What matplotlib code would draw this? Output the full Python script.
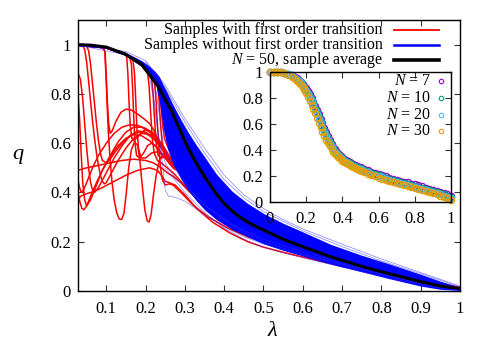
import matplotlib
matplotlib.use('Agg')
import matplotlib.pyplot as plt

plt.rcParams['font.family'] = ['Liberation Serif', 'DejaVu Serif']
plt.rcParams['mathtext.fontset'] = 'custom'
plt.rcParams['mathtext.rm'] = 'Liberation Serif'
plt.rcParams['mathtext.it'] = 'Liberation Serif:italic'

# ---------------- main panel data ----------------
# N = 50 sample average
avg_lam = [0.028, 0.06, 0.10, 0.148, 0.19, 0.232, 0.249, 0.265, 0.28, 0.29, 0.30, 0.32, 0.334,
           0.36, 0.38, 0.40, 0.42, 0.44, 0.47, 0.50, 0.55, 0.60, 0.669, 0.75, 0.82, 0.90, 0.95, 1.0]
avg_q = [1.0, 0.998, 0.99, 0.962, 0.92, 0.83, 0.78, 0.735, 0.68, 0.645, 0.607, 0.545, 0.505,
         0.44, 0.395, 0.355, 0.325, 0.30, 0.27, 0.248, 0.21, 0.18, 0.14, 0.1, 0.07, 0.038, 0.02, 0.01]

# dense core of the samples without first order transition
blue_lam = [0.028, 0.1, 0.15, 0.19, 0.21, 0.225, 0.235, 0.245, 0.255, 0.27, 0.29, 0.31, 0.33,
            0.35, 0.38, 0.42, 0.46, 0.5, 0.55, 0.6, 0.67, 0.75, 0.82, 0.9, 0.95, 1.0]
blue_upper = [1.0, 0.993, 0.968, 0.935, 0.912, 0.89, 0.87, 0.835, 0.805, 0.755, 0.695, 0.64, 0.59,
              0.545, 0.475, 0.405, 0.355, 0.315, 0.275, 0.24, 0.19, 0.145, 0.11, 0.068, 0.04, 0.015]
blue_lower = [0.995, 0.985, 0.955, 0.912, 0.88, 0.845, 0.77, 0.66, 0.58, 0.515, 0.455, 0.405, 0.365,
              0.33, 0.29, 0.25, 0.22, 0.192, 0.165, 0.142, 0.11, 0.078, 0.05, 0.02, 0.007, 0.002]

# individual samples at the edges of the bundle
blue_f1 = [(0.028, 0.998), (0.15, 0.958), (0.2, 0.9), (0.21, 0.87), (0.22, 0.78), (0.23, 0.66), (0.24, 0.57),
           (0.25, 0.52), (0.27, 0.47), (0.3, 0.42), (0.35, 0.35), (0.4, 0.29), (0.45, 0.24), (0.5, 0.2),
           (0.6, 0.15), (0.7, 0.11), (0.8, 0.07), (0.9, 0.03), (1.0, 0.005)]
blue_f2 = [(0.2, 0.9), (0.22, 0.86), (0.228, 0.8), (0.236, 0.7), (0.245, 0.6), (0.255, 0.55), (0.27, 0.51),
           (0.29, 0.46), (0.32, 0.4), (0.36, 0.335), (0.42, 0.27), (0.5, 0.21), (0.6, 0.16), (0.7, 0.115),
           (0.8, 0.075), (0.9, 0.035), (1.0, 0.006)]
blue_f3 = [(0.2, 0.9), (0.215, 0.86), (0.225, 0.74), (0.235, 0.6), (0.243, 0.52), (0.247, 0.45), (0.25, 0.41),
           (0.258, 0.385), (0.275, 0.38), (0.3, 0.365), (0.35, 0.31), (0.4, 0.26), (0.45, 0.22), (0.5, 0.19),
           (0.6, 0.145), (0.7, 0.105), (0.8, 0.068), (0.9, 0.03), (1.0, 0.004)]
blue_f4 = [(0.25, 0.5), (0.27, 0.46), (0.3, 0.4), (0.35, 0.32), (0.4, 0.255), (0.45, 0.21), (0.5, 0.178),
           (0.55, 0.155), (0.6, 0.135), (0.7, 0.097), (0.8, 0.06), (0.9, 0.024), (1.0, 0.002)]
blue_f5 = [(0.028, 1.0), (0.15, 0.972), (0.2, 0.935), (0.25, 0.835), (0.3, 0.7), (0.35, 0.58), (0.4, 0.47),
           (0.45, 0.39), (0.5, 0.335), (0.55, 0.29), (0.6, 0.252), (0.7, 0.19), (0.8, 0.13), (0.9, 0.075),
           (1.0, 0.02)]
blue_f6 = [(0.2, 0.93), (0.25, 0.825), (0.3, 0.685), (0.35, 0.56), (0.4, 0.452), (0.45, 0.378), (0.5, 0.322),
           (0.6, 0.244), (0.7, 0.18), (0.8, 0.122), (0.9, 0.07), (1.0, 0.017)]
blue_fringe = [blue_f1, blue_f2, blue_f3, blue_f4, blue_f5, blue_f6]

# samples with first order transition (lower branch part), most join a common tail
red_tail = [(0.30, 0.47), (0.33, 0.415), (0.36, 0.37), (0.40, 0.325), (0.45, 0.28), (0.50, 0.245),
            (0.55, 0.215), (0.60, 0.185), (0.70, 0.135), (0.80, 0.09), (0.90, 0.045), (1.0, 0.012)]

red_01 = [(0.028, 0.885), (0.034, 0.86), (0.04, 0.78), (0.045, 0.68), (0.05, 0.58), (0.055, 0.5), (0.06, 0.44),
          (0.065, 0.41), (0.07, 0.40), (0.08, 0.42), (0.1, 0.48), (0.12, 0.54), (0.14, 0.59), (0.16, 0.63),
          (0.18, 0.65), (0.2, 0.645), (0.22, 0.62), (0.24, 0.58), (0.26, 0.53), (0.28, 0.5)] + red_tail
red_02 = [(0.028, 0.80), (0.032, 0.70), (0.036, 0.56), (0.04, 0.44), (0.045, 0.37), (0.05, 0.345), (0.06, 0.37),
          (0.075, 0.43), (0.09, 0.49), (0.11, 0.55), (0.13, 0.605), (0.15, 0.645), (0.17, 0.665), (0.19, 0.665),
          (0.21, 0.645), (0.23, 0.615), (0.25, 0.57), (0.27, 0.52)] + red_tail
red_03 = [(0.028, 0.40), (0.033, 0.36), (0.038, 0.335), (0.043, 0.33), (0.05, 0.345), (0.06, 0.385),
          (0.075, 0.44), (0.09, 0.49), (0.11, 0.545), (0.13, 0.59), (0.15, 0.62), (0.17, 0.635), (0.19, 0.63),
          (0.21, 0.61), (0.23, 0.58), (0.25, 0.54), (0.27, 0.5)] + red_tail
red_04 = [(0.028, 0.49), (0.05, 0.5), (0.08, 0.51), (0.11, 0.52), (0.14, 0.53), (0.17, 0.535), (0.2, 0.53),
          (0.22, 0.52), (0.24, 0.5), (0.255, 0.48), (0.27, 0.465), (0.29, 0.44), (0.31, 0.405), (0.34, 0.36),
          (0.37, 0.32), (0.41, 0.28), (0.45, 0.25), (0.5, 0.22), (0.6, 0.17), (0.7, 0.125), (0.8, 0.083),
          (0.9, 0.04), (1.0, 0.01)]
red_05 = [(0.028, 0.37), (0.035, 0.385), (0.05, 0.395), (0.07, 0.405), (0.09, 0.42), (0.12, 0.445), (0.15, 0.47),
          (0.18, 0.49), (0.21, 0.5), (0.23, 0.49), (0.24, 0.47), (0.25, 0.445), (0.26, 0.44), (0.275, 0.43),
          (0.3, 0.39), (0.33, 0.335), (0.37, 0.28), (0.415, 0.235), (0.46, 0.2), (0.5, 0.178), (0.55, 0.157),
          (0.6, 0.138), (0.7, 0.1), (0.8, 0.065), (0.9, 0.028), (1.0, 0.005)]
red_06 = [(0.028, 0.998), (0.04, 0.996), (0.045, 0.98), (0.05, 0.93), (0.055, 0.85), (0.06, 0.77), (0.065, 0.69),
          (0.07, 0.62), (0.075, 0.56), (0.08, 0.51), (0.085, 0.47), (0.09, 0.445), (0.095, 0.435), (0.1, 0.44),
          (0.11, 0.47), (0.13, 0.53), (0.15, 0.58), (0.17, 0.62), (0.19, 0.64), (0.21, 0.635), (0.23, 0.61),
          (0.25, 0.565), (0.27, 0.52)] + red_tail
red_07 = [(0.028, 0.998), (0.05, 0.994), (0.055, 0.975), (0.06, 0.92), (0.065, 0.84), (0.07, 0.76), (0.075, 0.68),
          (0.08, 0.61), (0.085, 0.56), (0.09, 0.53), (0.1, 0.52), (0.11, 0.535), (0.125, 0.57), (0.14, 0.6),
          (0.16, 0.63), (0.18, 0.645), (0.2, 0.64), (0.22, 0.62), (0.24, 0.585), (0.26, 0.54), (0.28, 0.5)] + red_tail
red_08 = [(0.028, 0.998), (0.06, 0.995), (0.09, 0.988), (0.096, 0.975), (0.099, 0.88), (0.102, 0.76),
          (0.105, 0.65), (0.109, 0.55), (0.114, 0.45), (0.12, 0.37), (0.127, 0.315), (0.133, 0.292),
          (0.139, 0.29), (0.145, 0.315), (0.151, 0.4), (0.157, 0.5), (0.164, 0.575), (0.172, 0.605),
          (0.18, 0.59), (0.186, 0.52), (0.192, 0.42), (0.198, 0.33), (0.204, 0.285), (0.209, 0.28),
          (0.214, 0.31), (0.22, 0.39), (0.227, 0.47), (0.235, 0.53), (0.245, 0.555), (0.255, 0.545),
          (0.27, 0.51)] + red_tail
red_09 = [(0.028, 0.998), (0.06, 0.995), (0.092, 0.987), (0.097, 0.97), (0.1, 0.87), (0.103, 0.76),
          (0.106, 0.68), (0.11, 0.64), (0.115, 0.65), (0.125, 0.69), (0.137, 0.725), (0.15, 0.738),
          (0.163, 0.735), (0.178, 0.72), (0.195, 0.7), (0.21, 0.68), (0.222, 0.65), (0.235, 0.6), (0.25, 0.56),
          (0.27, 0.52)] + red_tail
red_10 = [(0.028, 0.998), (0.1, 0.987), (0.148, 0.96), (0.152, 0.95), (0.155, 0.88), (0.158, 0.76),
          (0.161, 0.67), (0.165, 0.62), (0.17, 0.61), (0.18, 0.625), (0.19, 0.645), (0.2, 0.655), (0.21, 0.65),
          (0.22, 0.635), (0.235, 0.6), (0.25, 0.56), (0.27, 0.515)] + red_tail
red_11 = [(0.028, 0.998), (0.1, 0.987), (0.15, 0.958), (0.16, 0.945), (0.164, 0.92), (0.167, 0.82), (0.17, 0.7),
          (0.173, 0.6), (0.177, 0.55), (0.185, 0.54), (0.195, 0.56), (0.205, 0.59), (0.215, 0.6), (0.225, 0.59),
          (0.24, 0.56), (0.255, 0.53), (0.27, 0.5)] + red_tail
red_12 = [(0.028, 0.998), (0.1, 0.987), (0.15, 0.958), (0.168, 0.935), (0.172, 0.88), (0.175, 0.77),
          (0.178, 0.66), (0.182, 0.58), (0.188, 0.54), (0.2, 0.54), (0.215, 0.56), (0.23, 0.565), (0.245, 0.55),
          (0.26, 0.52), (0.28, 0.49)] + red_tail
red_13 = [(0.028, 0.998), (0.1, 0.987), (0.15, 0.958), (0.19, 0.915), (0.205, 0.885), (0.209, 0.83),
          (0.213, 0.72), (0.217, 0.62), (0.222, 0.56), (0.23, 0.53), (0.24, 0.52), (0.255, 0.5), (0.27, 0.48),
          (0.29, 0.445), (0.32, 0.395), (0.36, 0.345), (0.4, 0.305), (0.5, 0.228), (0.6, 0.172), (0.7, 0.127),
          (0.8, 0.084), (0.9, 0.041), (1.0, 0.01)]
red_14 = [(0.028, 0.998), (0.1, 0.987), (0.15, 0.958), (0.19, 0.915), (0.215, 0.87), (0.219, 0.8),
          (0.223, 0.69), (0.227, 0.6), (0.232, 0.55), (0.24, 0.54), (0.25, 0.545), (0.26, 0.535),
          (0.275, 0.51)] + red_tail
red_15 = [(0.028, 0.998), (0.1, 0.987), (0.15, 0.958), (0.19, 0.915), (0.222, 0.855), (0.226, 0.79),
          (0.23, 0.68), (0.234, 0.58), (0.238, 0.5), (0.243, 0.45), (0.25, 0.43), (0.26, 0.435), (0.27, 0.43),
          (0.29, 0.4), (0.32, 0.35), (0.36, 0.3), (0.41, 0.255), (0.46, 0.22), (0.5, 0.198), (0.6, 0.15),
          (0.7, 0.11), (0.8, 0.072), (0.9, 0.033), (1.0, 0.007)]
red_16 = [(0.028, 0.998), (0.1, 0.987), (0.15, 0.958), (0.19, 0.915), (0.23, 0.84), (0.234, 0.78),
          (0.238, 0.68), (0.242, 0.6), (0.247, 0.56), (0.255, 0.55), (0.265, 0.53), (0.28, 0.5)] + red_tail
red_17 = [(0.028, 0.998), (0.1, 0.987), (0.15, 0.958), (0.19, 0.915), (0.235, 0.83), (0.239, 0.76),
          (0.243, 0.68), (0.248, 0.62), (0.255, 0.59), (0.265, 0.57), (0.28, 0.54), (0.3, 0.5), (0.33, 0.44),
          (0.37, 0.38), (0.42, 0.32), (0.5, 0.255), (0.6, 0.19), (0.7, 0.14), (0.8, 0.095), (0.9, 0.05),
          (1.0, 0.014)]
red_18 = [(0.028, 0.45), (0.032, 0.42), (0.036, 0.4), (0.042, 0.41), (0.05, 0.44), (0.065, 0.5), (0.08, 0.55),
          (0.1, 0.6), (0.12, 0.64), (0.14, 0.665), (0.16, 0.675), (0.18, 0.672), (0.2, 0.66), (0.22, 0.64),
          (0.24, 0.6), (0.26, 0.55), (0.28, 0.5)] + red_tail
red_samples = [red_01, red_02, red_03, red_04, red_05, red_06, red_07, red_08, red_09,
               red_10, red_11, red_12, red_13, red_14, red_15, red_16, red_17, red_18]

main_xticks = [0.1, 0.2, 0.3, 0.4, 0.5, 0.6, 0.7, 0.8, 0.9, 1.0]
main_xlabels = ['0.1', '0.2', '0.3', '0.4', '0.5', '0.6', '0.7', '0.8', '0.9', '1']
yticks = [0, 0.2, 0.4, 0.6, 0.8, 1.0]
ylabels = ['0', '0.2', '0.4', '0.6', '0.8', '1']
main_legend = ['Samples with first order transition', 'Samples without first order transition',
               r'$N$ = 50, sample average']

# ---------------- inset data ----------------
inset_lam = [0.00, 0.02, 0.04, 0.06, 0.08, 0.10, 0.12, 0.14, 0.15, 0.16, 0.17, 0.18, 0.19, 0.20, 0.21,
             0.22, 0.23, 0.24, 0.25, 0.26, 0.27, 0.28, 0.29, 0.30, 0.31, 0.32, 0.33, 0.34, 0.35, 0.36,
             0.37, 0.38, 0.39, 0.40, 0.41, 0.42, 0.43, 0.44, 0.45, 0.46, 0.47, 0.48, 0.49, 0.50, 0.52,
             0.54, 0.56, 0.58, 0.60, 0.62, 0.64, 0.66, 0.68, 0.70, 0.72, 0.74, 0.76, 0.78, 0.80, 0.82,
             0.84, 0.86, 0.88, 0.90, 0.92, 0.94, 0.96, 0.98, 1.00]
q_n7 = [1.000, 0.999, 0.998, 0.996, 0.992, 0.985, 0.974, 0.958, 0.948, 0.936, 0.923, 0.908, 0.890,
        0.871, 0.849, 0.825, 0.799, 0.770, 0.739, 0.706, 0.672, 0.637, 0.602, 0.567, 0.534, 0.502,
        0.473, 0.447, 0.424, 0.403, 0.385, 0.369, 0.355, 0.343, 0.332, 0.322, 0.313, 0.305, 0.297,
        0.290, 0.283, 0.276, 0.270, 0.264, 0.252, 0.241, 0.231, 0.221, 0.212, 0.203, 0.194, 0.186,
        0.178, 0.170, 0.162, 0.155, 0.148, 0.140, 0.133, 0.125, 0.117, 0.109, 0.101, 0.093, 0.084,
        0.076, 0.067, 0.057, 0.046]
q_n10 = [1.000, 0.999, 0.998, 0.995, 0.991, 0.983, 0.971, 0.954, 0.944, 0.931, 0.917, 0.901, 0.882,
         0.862, 0.839, 0.814, 0.786, 0.756, 0.724, 0.691, 0.656, 0.621, 0.586, 0.552, 0.519, 0.489,
         0.461, 0.436, 0.413, 0.393, 0.376, 0.360, 0.347, 0.335, 0.324, 0.314, 0.305, 0.297, 0.289,
         0.282, 0.275, 0.268, 0.262, 0.256, 0.244, 0.233, 0.223, 0.213, 0.204, 0.195, 0.186, 0.178,
         0.170, 0.162, 0.154, 0.146, 0.139, 0.131, 0.124, 0.116, 0.108, 0.100, 0.092, 0.083, 0.075,
         0.066, 0.057, 0.047, 0.037]
q_n20 = [1.000, 0.999, 0.997, 0.995, 0.990, 0.981, 0.968, 0.950, 0.939, 0.925, 0.910, 0.893, 0.873,
         0.851, 0.827, 0.800, 0.771, 0.740, 0.707, 0.673, 0.638, 0.603, 0.568, 0.535, 0.503, 0.474,
         0.447, 0.423, 0.401, 0.382, 0.366, 0.351, 0.338, 0.326, 0.316, 0.306, 0.297, 0.289, 0.281,
         0.274, 0.267, 0.260, 0.254, 0.248, 0.236, 0.225, 0.215, 0.205, 0.196, 0.187, 0.178, 0.170,
         0.162, 0.154, 0.146, 0.138, 0.131, 0.123, 0.116, 0.108, 0.100, 0.092, 0.084, 0.075, 0.066,
         0.057, 0.047, 0.037, 0.027]
q_n30 = [1.000, 0.999, 0.997, 0.994, 0.988, 0.978, 0.963, 0.943, 0.930, 0.915, 0.898, 0.879, 0.857,
         0.833, 0.806, 0.777, 0.746, 0.713, 0.679, 0.644, 0.609, 0.574, 0.540, 0.508, 0.478, 0.451,
         0.426, 0.404, 0.384, 0.367, 0.352, 0.338, 0.326, 0.315, 0.305, 0.296, 0.287, 0.279, 0.271,
         0.264, 0.257, 0.250, 0.244, 0.238, 0.226, 0.215, 0.205, 0.195, 0.186, 0.177, 0.168, 0.160,
         0.152, 0.144, 0.136, 0.128, 0.121, 0.113, 0.106, 0.098, 0.090, 0.082, 0.074, 0.065, 0.056,
         0.046, 0.036, 0.025, 0.014]
inset_series = [('$N$ = 7', q_n7, '#9400D3'), ('$N$ = 10', q_n10, '#009E73'),
                ('$N$ = 20', q_n20, '#56B4E9'), ('$N$ = 30', q_n30, '#E69F00')]
inset_ticks = [0, 0.2, 0.4, 0.6, 0.8, 1.0]
inset_labels = ['0', '0.2', '0.4', '0.6', '0.8', '1']

FS = 12
LEG_FS = 11.5


def style_axes(a, xt, xl, yt, yl, xpad, ypad):
    a.set_xticks(xt)
    a.set_xticklabels(xl)
    a.set_yticks(yt)
    a.set_yticklabels(yl)
    a.tick_params(direction='in', length=4, width=0.8, top=True, right=True,
                  labelsize=FS, color='#333333')
    a.tick_params(axis='x', pad=xpad)
    a.tick_params(axis='y', pad=ypad)
    for s in a.spines.values():
        s.set_linewidth(1.0)
        s.set_color('black')


fig = plt.figure(figsize=(4.91, 3.43), dpi=100)
ax = fig.add_axes([78 / 491, 1 - 291 / 343, 382 / 491, 271 / 343])

for curve in red_samples:
    ax.plot([p[0] for p in curve], [p[1] for p in curve], color='#FF0000', lw=1.1, zorder=2)

ax.fill_between(blue_lam, blue_lower, blue_upper, color='#0000FF', lw=0, zorder=3)
for curve in blue_fringe:
    ax.plot([p[0] for p in curve], [p[1] for p in curve], color='#3030FF', lw=0.5, alpha=0.6, zorder=3)

ax.plot(avg_lam, avg_q, color='black', lw=2.2, zorder=5)

ax.set_xlim(0.028, 1.0)
ax.set_ylim(0, 1.1)
style_axes(ax, main_xticks, main_xlabels, yticks, ylabels, 7, 5)

# legend in gnuplot style: text right aligned, sample line to its right
leg_rows = [0.963, 0.908, 0.851]
leg_colors = ['#FF0000', '#0000FF', 'black']
leg_widths = [1.3, 1.8, 2.6]
for label, yy, c, w in zip(main_legend, leg_rows, leg_colors, leg_widths):
    ax.text(0.798, yy, label, transform=ax.transAxes, ha='right', va='center', fontsize=LEG_FS)
    ax.plot([0.827, 0.945], [yy, yy], transform=ax.transAxes, color=c, lw=w, zorder=6)

fig.text(18 / 491, 1 - 155 / 343, 'q', fontsize=16, fontstyle='italic', ha='center', va='center')
fig.text(272 / 491, 1 - 332 / 343, 'λ', fontsize=16, fontstyle='italic', ha='center', va='center')

# inset
axi = fig.add_axes([270 / 491, 1 - 201.7 / 343, 181 / 491, 130 / 343])
axi.set_facecolor('white')
in_rows = [0.925, 0.797, 0.669, 0.541]
for (label, qs, c), yy in zip(inset_series, in_rows):
    axi.plot(inset_lam, qs, ls='none', marker='o', ms=4.4, mfc='none', mec=c, mew=1.0, clip_on=False)
    axi.text(0.89, yy, label, transform=axi.transAxes, ha='right', va='center', fontsize=LEG_FS)
    axi.plot([0.943], [yy], transform=axi.transAxes, ls='none', marker='o', ms=3.2, mfc='none',
             mec=c, mew=0.8)
axi.set_xlim(0, 1)
axi.set_ylim(0, 1)
style_axes(axi, inset_ticks, inset_labels, inset_ticks, inset_labels, 7, 5)

fig.savefig('out.png', dpi=100, facecolor='white')
